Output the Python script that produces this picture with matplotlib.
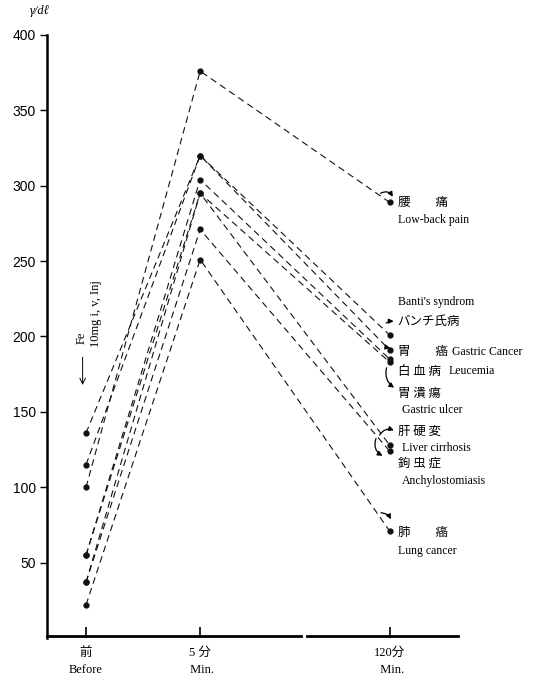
import matplotlib
matplotlib.use("Agg")
import matplotlib.pyplot as plt
from matplotlib.lines import Line2D

plt.rcParams['font.family'] = ['Liberation Serif', 'Noto Sans CJK JP', 'DejaVu Sans']

# time points (axis is broken between 5 min and 120 min)
x_pos = [0.0, 1.0, 2.66]
x_labels = ["前\nBefore", "5 分\n Min.", "120分\n  Min."]

# serum iron, γ/dℓ : before, 5 min, 120 min after Fe 10mg i.v.
diseases = ["Low-back pain", "Banti's syndrom", "Gastric Cancer", "Leucemia",
            "Gastric ulcer", "Liver cirrhosis", "Anchylostomiasis", "Lung cancer"]
before = [100, 136, 115, 55, 55, 37, 37, 22]
min5 = [376, 320, 320, 304, 295, 295, 271, 251]
min120 = [289, 201, 191, 185, 183, 128, 124, 71]

y_ticks = [50, 100, 150, 200, 250, 300, 350, 400]

fig = plt.figure(figsize=(5.48, 6.83), dpi=100)
ax = fig.add_axes([0.0858, 0.0659, 0.750, 0.883])

for b, m, e in zip(before, min5, min120):
    ax.plot(x_pos, [b, m, e], color="#111111", lw=0.8, ls=(0, (6, 4)),
            marker="o", ms=3.5, mfc="#111111", mec="#111111")

ax.set_xlim(-0.342, 3.26)
ax.set_ylim(0, 400)

ax.spines[['top', 'right', 'bottom']].set_visible(False)
ax.spines['left'].set_linewidth(1.8)
ax.set_yticks(y_ticks)
ax.tick_params(axis='y', direction='out', length=5, width=1, labelsize=10,
               labelfontfamily='Liberation Sans', pad=3)
ax.set_xticks(x_pos)
ax.set_xticklabels([])
ax.tick_params(axis='x', direction='in', length=8, width=1.2)

# broken bottom axis
ax.add_line(Line2D([-0.342, 1.88], [1.5, 1.5], color="black", lw=2, clip_on=False))
ax.add_line(Line2D([1.94, 3.26], [1.5, 1.5], color="black", lw=2, clip_on=False))

# x labels
for xp, lab in zip(x_pos, x_labels):
    ax.text(xp, -6, lab, ha="center", va="top", fontsize=9, linespacing=1.5)

ax.text(-0.49, 412, "γ/dℓ", fontsize=9, ha="left", va="bottom", style="italic")

# injection note
ax.text(-0.04, 199, "Fe", rotation=90, fontsize=9, ha="center", va="center")
ax.text(0.09, 215, "10mg i, v, Inj", rotation=90, fontsize=9, ha="center", va="center")
ax.annotate("", xy=(-0.03, 166), xytext=(-0.03, 188),
            arrowprops=dict(arrowstyle="->", lw=0.7, color="black"))

# disease labels at 120 min
jp = ['Noto Sans CJK JP', 'DejaVu Sans']
lx = 2.73
ax.text(lx, 289, "腰　　痛", family=jp, fontsize=9, va="center")
ax.text(lx, 277, "Low-back pain", fontsize=8.5, va="center")
ax.text(lx, 223, "Banti's syndrom", fontsize=8.5, va="center")
ax.text(lx, 210, "バンチ氏病", family=jp, fontsize=9, va="center")
ax.text(lx, 190, "胃　　癌", family=jp, fontsize=9, va="center")
ax.text(3.21, 190, "Gastric Cancer", fontsize=8.5, va="center")
ax.text(lx, 177, "白 血 病", family=jp, fontsize=9, va="center")
ax.text(3.18, 177, "Leucemia", fontsize=8.5, va="center")
ax.text(lx, 162, "胃 潰 瘍", family=jp, fontsize=9, va="center")
ax.text(2.77, 151, "Gastric ulcer", fontsize=8.5, va="center")
ax.text(lx, 137, "肝 硬 変", family=jp, fontsize=9, va="center")
ax.text(2.77, 126, "Liver cirrhosis", fontsize=8.5, va="center")
ax.text(lx, 116, "鉤 虫 症", family=jp, fontsize=9, va="center")
ax.text(2.77, 104, "Anchylostomiasis", fontsize=8.5, va="center")
ax.text(lx, 70, "肺　　癌", family=jp, fontsize=9, va="center")
ax.text(lx, 58, "Lung cancer", fontsize=8.5, va="center")

# curved pointers
arr = dict(arrowstyle="-|>", lw=0.9, color="black", mutation_scale=7)
ax.annotate("", xy=(2.70, 291), xytext=(2.56, 294),
            arrowprops=dict(connectionstyle="arc3,rad=-0.6", **arr))
ax.annotate("", xy=(2.72, 210), xytext=(2.61, 208),
            arrowprops=dict(connectionstyle="arc3,rad=-0.2", **arr))
ax.annotate("", xy=(2.69, 192), xytext=(2.62, 193),
            arrowprops=dict(connectionstyle="arc3,rad=0", **arr))
ax.annotate("", xy=(2.72, 165), xytext=(2.64, 181),
            arrowprops=dict(connectionstyle="arc3,rad=0.4", **arr))
ax.annotate("", xy=(2.72, 137), xytext=(2.56, 133),
            arrowprops=dict(connectionstyle="arc3,rad=-0.5", **arr))
ax.annotate("", xy=(2.62, 120), xytext=(2.55, 134),
            arrowprops=dict(connectionstyle="arc3,rad=0.5", **arr))
ax.annotate("", xy=(2.68, 77), xytext=(2.56, 83),
            arrowprops=dict(connectionstyle="arc3,rad=-0.4", **arr))

fig.savefig("out.png", dpi=100, facecolor="white")
